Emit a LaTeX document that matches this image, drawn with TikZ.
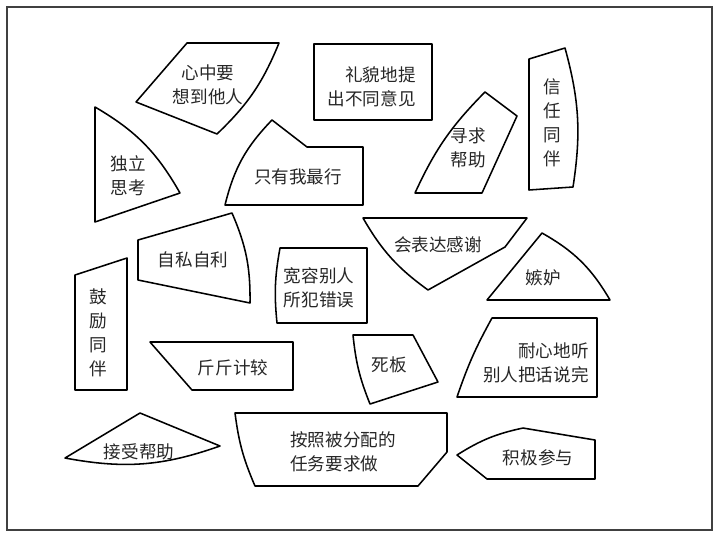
\documentclass[tikz,border=0pt]{standalone}
\usepackage{fontspec}
\newfontfamily\cjk{Noto Sans CJK SC}
\usepackage{tikz}
\usetikzlibrary{calc}

\begin{document}
\begin{tikzpicture}[x=0.025cm, y=-0.025cm,
    piece/.style={line width=1.1pt, line join=round},
    lbl/.style={font=\cjk\fontsize{12.5}{17}\selectfont, inner sep=0pt, text=black!85}]
    \useasboundingbox (0,0) rectangle (720,540);

    % frame
    \draw[line width=0.8pt, black!75] (7,7) rectangle (712,530);

    % top row
    \draw[piece] (187,43) -- (279,43) to[bend left=12] (217,134) -- (136,102) -- cycle;
    \draw[piece] (314,44) rectangle (432,120);
    \draw[piece] (529,59) -- (565,48) to[bend left=12] (573,187) -- (529,190) -- cycle;

    \draw[piece] (95,107) to[bend left=15] (180,193) -- (95,222) -- cycle;
    \draw[piece] (272,120) -- (307,147) -- (363,147) -- (363,205) -- (225,205) to[bend left=15] cycle;
    \draw[piece] (485,92) -- (517,116) -- (482,193) -- (415,193) to[bend left=10] cycle;

    % middle row
    \draw[piece] (138,240) -- (232,213) to[bend left=12] (250,303) -- (138,280) -- cycle;
    \draw[piece] (363,218) -- (527,218) -- (505,247) -- (428,290) to[bend left=12] cycle;
    \draw[piece] (542,233) to[bend left=15] (610,300) -- (487,300) -- cycle;
    \draw[piece] (75,275) -- (127,258) -- (127,390) -- (75,390) -- cycle;
    \draw[piece] (367,248) -- (367,323) -- (277,323) to[bend left=8] (280,248) -- cycle;

    \draw[piece] (150,342) -- (293,342) -- (293,390) -- (192,390) -- cycle;
    \draw[piece] (353,335) -- (413,335) -- (438,382) -- (370,404) to[bend left=8] cycle;
    \draw[piece] (492,318) -- (597,318) -- (597,397) -- (457,397) to[bend left=5] cycle;

    % bottom row
    \draw[piece] (65,458) -- (140,413) -- (220,446) to[bend left=15] cycle;
    \draw[piece] (235,413) -- (447,413) -- (447,452) -- (418,486) -- (255,486) to[bend left=8] cycle;
    \draw[piece] (457,455) to[bend left=10] (523,428) -- (595,440) -- (595,479) -- (487,479) -- cycle;

    % Labels
    \node[lbl, align=center] (heart) at (208,85) {心中要\\想到他人};
    \node[lbl, align=right, anchor=east] (polite) at (416,87) {礼貌地提\\出不同意见};
    \node[lbl, align=center] (trust) at (552,123) {信\\任\\同\\伴};
    \node[lbl, align=center] (think) at (128,176) {独立\\思考};
    \node[lbl] (onlyme) at (298,177) {只有我最行};
    \node[lbl, align=center] (askhelp) at (468,148) {寻求\\帮助};
    \node[lbl] (selfish) at (193,260) {自私自利};
    \node[lbl] (thanks) at (438,245) {会表达感谢};
    \node[lbl] (envy) at (543,278) {嫉妒};
    \node[lbl, align=center] (cheer) at (98,333) {鼓\\励\\同\\伴};
    \node[lbl, align=center] (forgive) at (319,288) {宽容别人\\所犯错误};
    \node[lbl] (haggle) at (233,368) {斤斤计较};
    \node[lbl] (rigid) at (389,365) {死板};
    \node[lbl, align=right, anchor=east] (listen) at (589,363) {耐心地听\\别人把话说完};
    \node[lbl] (accept) at (139,452) {接受帮助};
    \node[lbl, align=left, anchor=west] (task) at (290,452) {按照被分配的\\任务要求做};
    \node[lbl] (join) at (538,458) {积极参与};
\end{tikzpicture}
\end{document}
